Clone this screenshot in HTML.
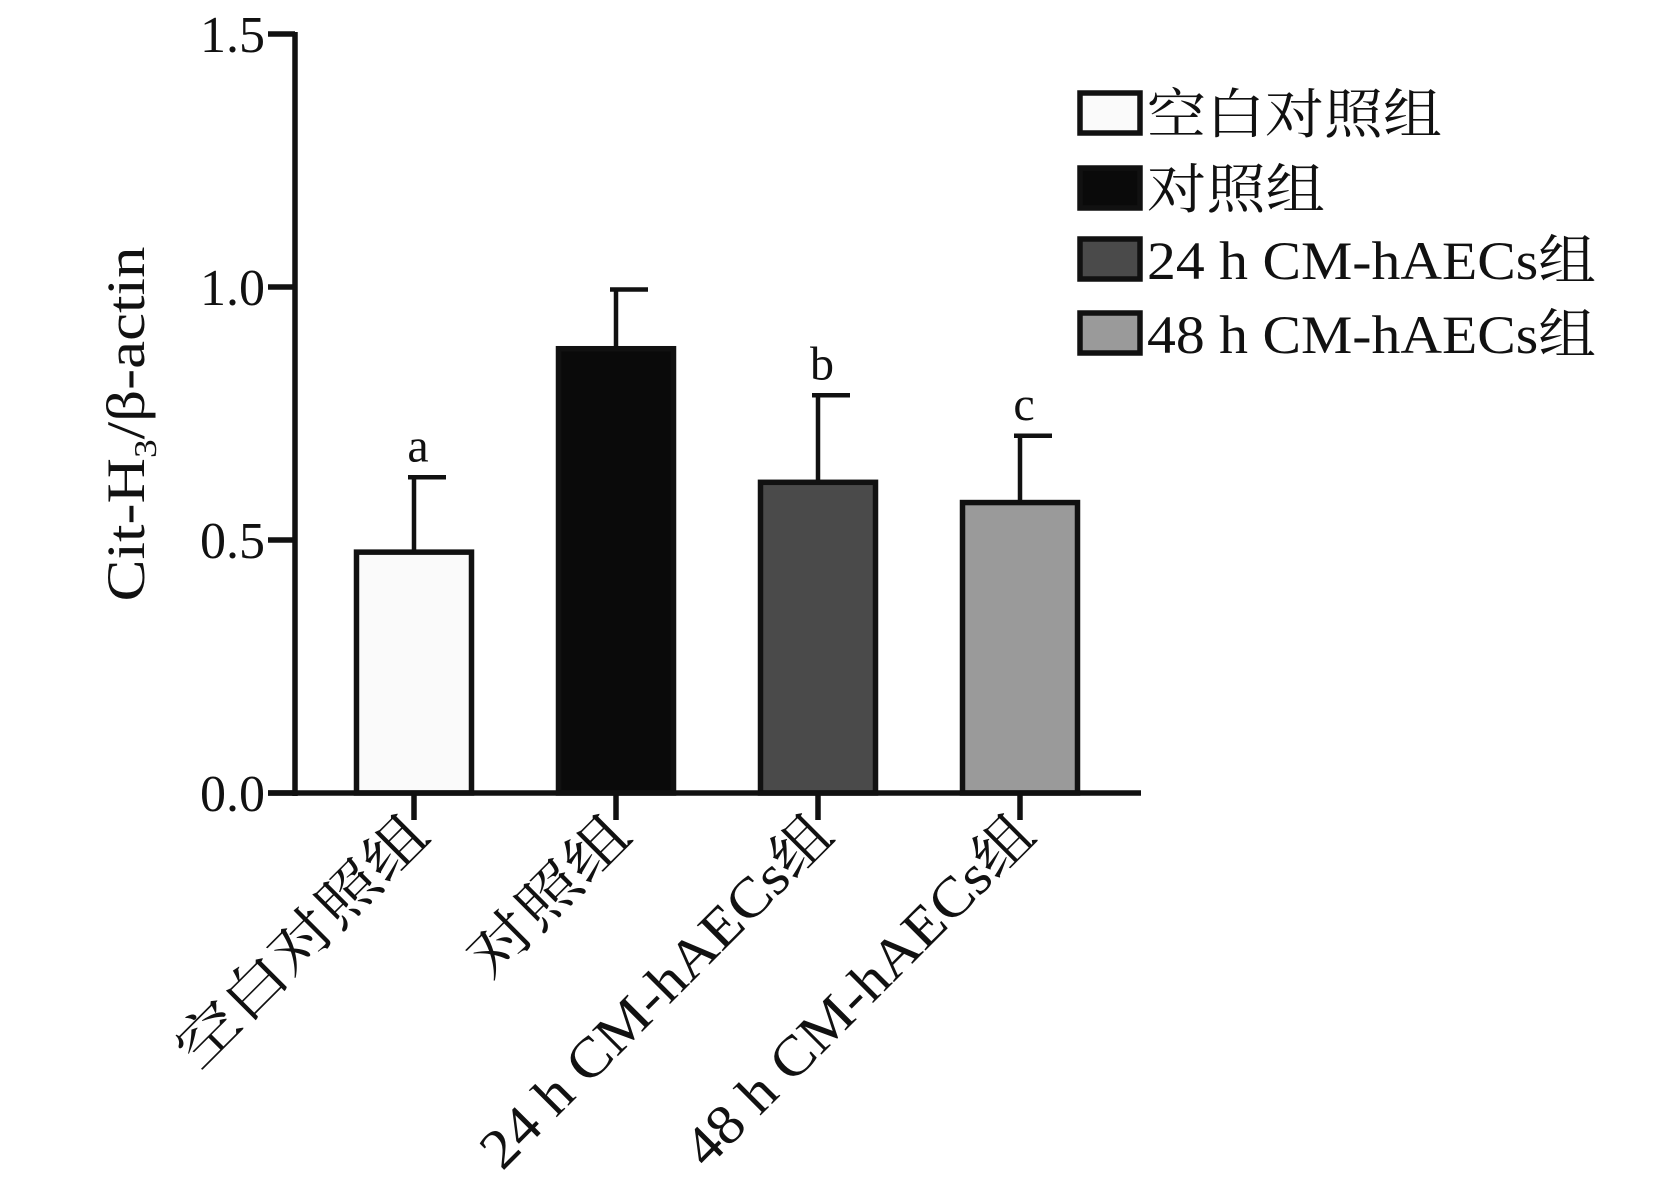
<!DOCTYPE html>
<html><head><meta charset="utf-8"><style>
body{margin:0;background:#fff}
svg text{font-family:"Liberation Serif","Noto Serif CJK SC",serif;fill:#111}
</style></head><body>
<svg id="c" width="1654" height="1178" viewBox="0 0 1654 1178"></svg>
<script>
const categories=["空白对照组","对照组","24 h CM-hAECs组","48 h CM-hAECs组"];
const means=[0.476,0.878,0.614,0.574];
const errors=[0.148,0.117,0.172,0.132];
const sigLabels=["a","","b","c"];
const fills=["#fafafa","#0a0a0a","#4a4a4a","#9a9a9a"];
const yTicks=[0,0.5,1.0,1.5];
const yTickLabels=["0.0","0.5","1.0","1.5"];
const NS="http://www.w3.org/2000/svg";
const svg=document.getElementById('c');
const y0=793,y1=34,yMax=1.5;
function yS(v){return y0-(y0-y1)*v/yMax;}
function xS(i){return 414+i*202;}
function mk(t,a,p){const e=document.createElementNS(NS,t);for(const k in a)e.setAttribute(k,a[k]);(p||svg).appendChild(e);return e;}
const xLen=[330,202,472,469];
const legLen=[295,178,449,449];
let ax=mk('line',{x1:295,y1:32,x2:295,y2:796,stroke:'#111','stroke-width':5.5});


yTicks.forEach((v,i)=>{
 const t=mk('line',{x1:268,x2:295,y1:yS(v),y2:yS(v),stroke:'#111','stroke-width':5.5});
 
 
 const l=mk('text',{x:265,y:yS(v)+18,'text-anchor':'end','font-size':52});
 l.textContent=yTickLabels[i];
 
 
});
const yt=mk('text',{transform:'translate(144,424) rotate(-90)','text-anchor':'middle','font-size':54,textLength:355,lengthAdjust:'spacingAndGlyphs'});
yt.innerHTML='Cit-H<tspan font-size="32" dy="12">3</tspan><tspan dy="-12">/β-actin</tspan>';


const bw=115;
categories.forEach((c,i)=>{
 const cx=xS(i),top=yS(means[i]),et=yS(means[i]+errors[i]);
 const el=mk('line',{x1:cx,x2:cx,y1:et,y2:top,stroke:'#111','stroke-width':4.5});
 
 
 const cap=mk('line',{x1:cx-6,x2:cx+32,y1:et,y2:et,stroke:'#111','stroke-width':4.5});
 
 
 const r=mk('rect',{x:cx-bw/2,y:top,width:bw,height:y0-top,fill:fills[i],stroke:'#111','stroke-width':5.5});
 
 
 if(sigLabels[i]){const s=mk('text',{x:cx+4,y:et-16,'text-anchor':'middle','font-size':48});s.textContent=sigLabels[i];
 
 }
 const tk=mk('line',{x1:cx,x2:cx,y1:y0,y2:820,stroke:'#111','stroke-width':5.5});
 
 
 const xl=mk('text',{transform:`translate(${cx+18},838) rotate(-45)`,'text-anchor':'end','font-size':56,textLength:xLen[i],lengthAdjust:'spacingAndGlyphs'});
 xl.textContent=c;
 
 
});
let xa=mk('line',{x1:268,y1:y0,x2:1141,y2:y0,stroke:'#111','stroke-width':5.5});


const ly=[93,168,239,313];
categories.forEach((c,i)=>{
 const r=mk('rect',{x:1080,y:ly[i],width:60,height:40,fill:fills[i],stroke:'#111','stroke-width':5.5});
 
 
 const t=mk('text',{x:1147,y:ly[i]+40,'font-size':54,textLength:legLen[i],lengthAdjust:'spacingAndGlyphs'});
 t.textContent=c;
 
 
});
</script>
</body></html>
